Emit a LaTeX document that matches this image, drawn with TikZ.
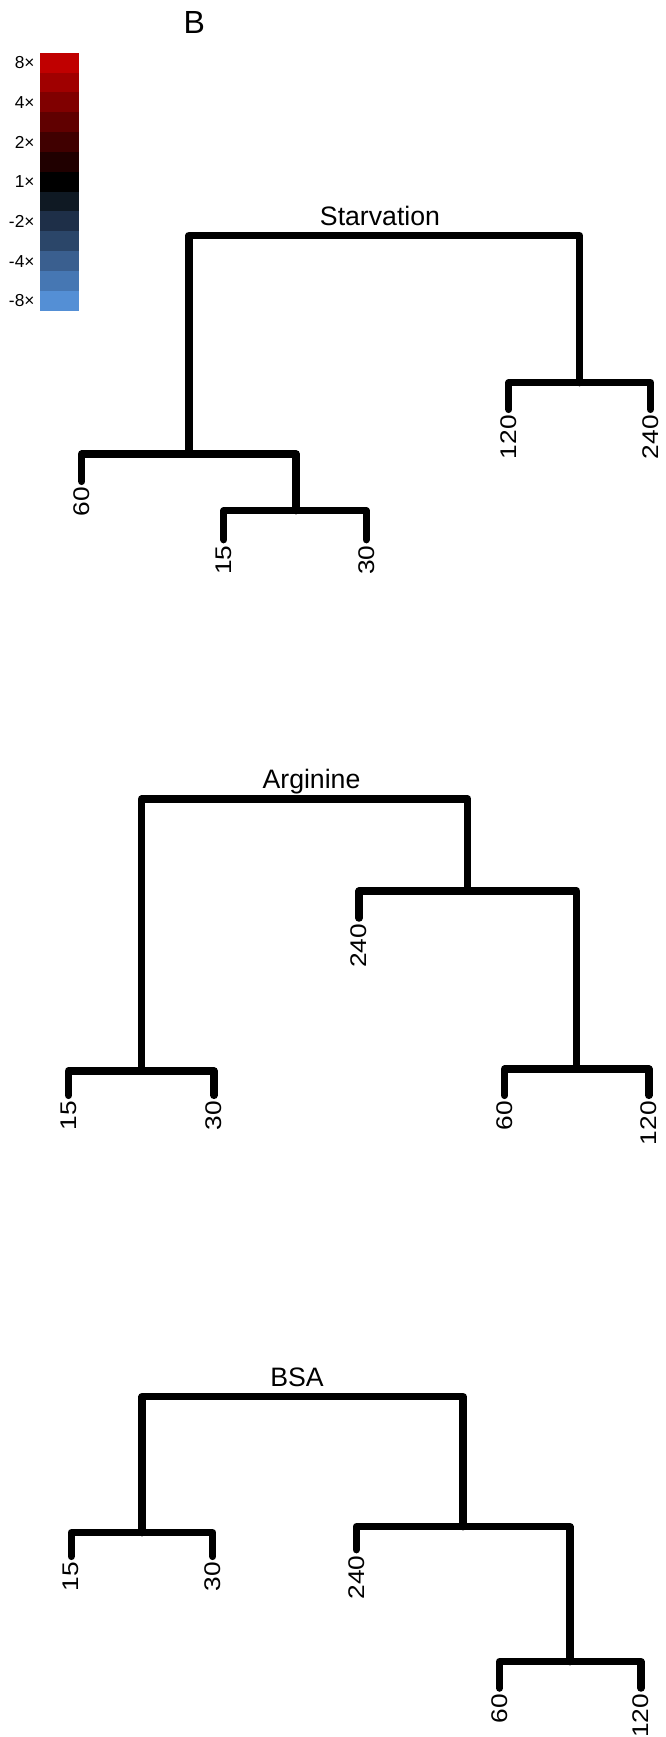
\documentclass[tikz,border=0pt]{standalone}
\usepackage{fontspec}
\usepackage{graphicx}
\setmainfont{Liberation Sans}
\usetikzlibrary{calc}

% colour key, top (red) to bottom (blue)
\definecolor{k1}{HTML}{C00000}
\definecolor{k2}{HTML}{A00000}
\definecolor{k3}{HTML}{800000}
\definecolor{k4}{HTML}{600000}
\definecolor{k5}{HTML}{400000}
\definecolor{k6}{HTML}{200000}
\definecolor{k7}{HTML}{000000}
\definecolor{k8}{HTML}{0F1923}
\definecolor{k9}{HTML}{1E2F48}
\definecolor{k10}{HTML}{2B4669}
\definecolor{k11}{HTML}{3A5F8F}
\definecolor{k12}{HTML}{4677B3}
\definecolor{k13}{HTML}{548FD5}

% wide digits for the leaf labels
\newcommand{\widelab}[1]{\scalebox{1.16}[1]{#1}}

\tikzset{
  tree/.style={line width=5.5pt, line cap=round, line join=round, black},
  leaflab/.style={rotate=90, anchor=east, inner sep=0pt, font=\fontsize{17}{17}\selectfont},
  title/.style={anchor=base, inner sep=0pt, font=\fontsize{20}{20}\selectfont},
  keylab/.style={anchor=east, inner sep=0pt, font=\fontsize{13}{13}\selectfont},
}

\begin{document}
\begin{tikzpicture}[x=0.75pt, y=-0.75pt]
\useasboundingbox (0,0) rectangle (665,1737);
\fill[white] (0,0) rectangle (665,1737);

% panel letter
\node[anchor=base, inner sep=0pt, font=\fontsize{24}{24}\selectfont] (panel) at (194.3,33.3) {B};

% colour key
\foreach \i in {1,...,13}{
  \fill[k\i] (40,{52.7+(\i-1)*19.85}) rectangle (79,{52.7+\i*19.85+0.3});
}
\node[keylab] (key8)  at (34.8,{52.7+0.5*19.85})  {8×};
\node[keylab] (key4)  at (34.8,{52.7+2.5*19.85})  {4×};
\node[keylab] (key2)  at (34.8,{52.7+4.5*19.85})  {2×};
\node[keylab] (key1)  at (34.8,{52.7+6.5*19.85})  {1×};
\node[keylab] (keym2) at (34.8,{52.7+8.5*19.85})  {-2×};
\node[keylab] (keym4) at (34.8,{52.7+10.5*19.85}) {-4×};
\node[keylab] (keym8) at (34.8,{52.7+12.5*19.85}) {-8×};

% ---------------- Starvation ----------------
\node[title] (tS) at (380,226) {Starvation};
\coordinate (sTop)  at (384,235.5);
\coordinate (sL)    at (189,454);
\coordinate (sR)    at (579.3,382.7);
\coordinate (sJ)    at (296.1,510.7);
\coordinate (s60)   at (81.8,481.4);
\coordinate (s15)   at (223.8,539.7);
\coordinate (s30)   at (366.2,539.7);
\coordinate (s120)  at (508.8,409.4);
\coordinate (s240)  at (650.5,409.4);
\draw[tree] (sL) |- (sTop) -| (sR);
\draw[tree] (s120) |- (sR) -| (s240);
\draw[tree] (s60) |- (sL) -| (sJ);
\draw[tree] (s15) |- (sJ) -| (s30);
\node[leaflab] (ls60)  at ($(s60)+(0,5.5)$)  {\widelab{60}};
\node[leaflab] (ls15)  at ($(s15)+(0,5.5)$)  {\widelab{15}};
\node[leaflab] (ls30)  at ($(s30)+(0,5.5)$)  {\widelab{30}};
\node[leaflab] (ls120) at ($(s120)+(0,5.5)$) {\widelab{120}};
\node[leaflab] (ls240) at ($(s240)+(0,5.5)$) {\widelab{240}};

% ---------------- Arginine ----------------
\node[title] (tA) at (311.5,788.3) {Arginine};
\coordinate (aTop)  at (305,799);
\coordinate (aL)    at (141.6,1071);
\coordinate (aR)    at (467.8,891);
\coordinate (aJ)    at (576.6,1069);
\coordinate (a15)   at (68.5,1095.4);
\coordinate (a30)   at (214,1095.4);
\coordinate (a240)  at (359.1,918.1);
\coordinate (a60)   at (504.6,1095.4);
\coordinate (a120)  at (648.9,1095.4);
\draw[tree] (aL) |- (aTop) -| (aR);
\draw[tree] (a15) |- (aL) -| (a30);
\draw[tree] (a240) |- (aR) -| (aJ);
\draw[tree] (a60) |- (aJ) -| (a120);
\node[leaflab] (la15)  at ($(a15)+(0,5.5)$)  {\widelab{15}};
\node[leaflab] (la30)  at ($(a30)+(0,5.5)$)  {\widelab{30}};
\node[leaflab] (la240) at ($(a240)+(0,5.5)$) {\widelab{240}};
\node[leaflab] (la60)  at ($(a60)+(0,5.5)$)  {\widelab{60}};
\node[leaflab] (la120) at ($(a120)+(0,5.5)$) {\widelab{120}};

% ---------------- BSA ----------------
\node[title] (tB) at (297,1386.7) {BSA};
\coordinate (bTop)  at (302,1396.7);
\coordinate (bL)    at (142,1532.7);
\coordinate (bR)    at (463.1,1526.7);
\coordinate (bJ)    at (569.9,1661.7);
\coordinate (b15)   at (71.2,1556.4);
\coordinate (b30)   at (212.8,1556.4);
\coordinate (b240)  at (356.3,1549.7);
\coordinate (b60)   at (499.5,1688.1);
\coordinate (b120)  at (641,1688.1);
\draw[tree] (bL) |- (bTop) -| (bR);
\draw[tree] (b15) |- (bL) -| (b30);
\draw[tree] (b240) |- (bR) -| (bJ);
\draw[tree] (b60) |- (bJ) -| (b120);
\node[leaflab] (lb15)  at ($(b15)+(0,5.5)$)  {\widelab{15}};
\node[leaflab] (lb30)  at ($(b30)+(0,5.5)$)  {\widelab{30}};
\node[leaflab] (lb240) at ($(b240)+(0,5.5)$) {\widelab{240}};
\node[leaflab] (lb60)  at ($(b60)+(0,5.5)$)  {\widelab{60}};
\node[leaflab] (lb120) at ($(b120)+(0,5.5)$) {\widelab{120}};
\end{tikzpicture}
\end{document}
